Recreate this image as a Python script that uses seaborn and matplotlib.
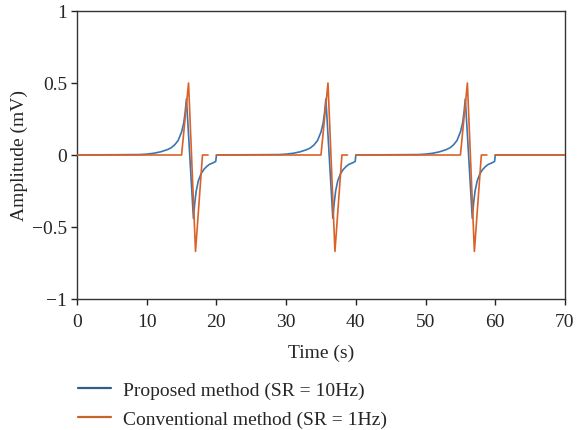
import numpy as np
import pandas as pd
import matplotlib
matplotlib.use("Agg")
import matplotlib.pyplot as plt
from matplotlib.lines import Line2D
import seaborn as sns

# one beat of each signal (time within a 20 s period)
beat_t_proposed = [0, 9, 10, 11, 12, 13, 13.5, 14, 14.5, 15, 15.3, 15.5, 15.7,
                   16.7, 16.9, 17.1, 17.4, 17.8, 18.2, 18.6, 19.0, 19.5, 19.9, 20.0]
beat_v_proposed = [0, 0.003, 0.006, 0.012, 0.022, 0.038, 0.05, 0.07, 0.1, 0.16, 0.22, 0.29, 0.39,
                   -0.44, -0.33, -0.25, -0.18, -0.13, -0.10, -0.08, -0.065, -0.055, -0.045, 0]
beat_t_conv = [0, 15, 16, 17, 18, 18.8]
beat_v_conv = [0, 0, 0.5, -0.67, 0, 0]
beat_starts = [0, 20, 40]
t_end = 70

blue = "#3a76b0"
orange = "#dc6128"

# build the three beats plus the flat tail
rows_p = []
for b in beat_starts:
    for t, v in zip(beat_t_proposed, beat_v_proposed):
        rows_p.append((b + t, v))
rows_p.append((t_end, 0))
df_p = pd.DataFrame(rows_p, columns=["time", "amp"]).drop_duplicates("time")

rows_c = []
for i, b in enumerate(beat_starts):
    for t, v in zip(beat_t_conv, beat_v_conv):
        rows_c.append((b + t, v, i))
rows_c.append((beat_starts[-1] + 20, 0, len(beat_starts)))
rows_c.append((t_end, 0, len(beat_starts)))
df_c = pd.DataFrame(rows_c, columns=["time", "amp", "seg"])

sns.set_style("ticks")
plt.rcParams["font.family"] = ["Liberation Serif", "DejaVu Serif"]
fs = 14

fig = plt.figure(figsize=(5.78, 4.31), dpi=100)
ax = fig.add_axes([77 / 578, 1 - 300 / 431, (565 - 77) / 578, (300 - 12) / 431])

sns.lineplot(data=df_p, x="time", y="amp", estimator=None, sort=False,
             color=blue, lw=1.2, ax=ax, zorder=2)
sns.lineplot(data=df_c, x="time", y="amp", units="seg", estimator=None, sort=False,
             color=orange, lw=1.2, ax=ax, zorder=3)

ax.set_xlim(0, 70)
ax.set_ylim(-1, 1)
ax.set_xticks(range(0, 71, 10))
ax.set_yticks([-1, -0.5, 0, 0.5, 1])
ax.set_yticklabels(["\u22121", "\u22120.5", "0", "0.5", "1"])
ax.tick_params(direction="out", length=4, width=1, labelsize=fs, color="#222222", pad=3)
ax.tick_params(axis="x", pad=6)
for s in ax.spines.values():
    s.set_color("#333333")
    s.set_linewidth(1)
ax.set_xlabel("Time (s)", fontsize=fs, labelpad=10)
ax.set_ylabel("Amplitude (mV)", fontsize=fs, labelpad=3)

handles = [Line2D([], [], color="#2f5f8c", lw=1.6),
           Line2D([], [], color="#c8642a", lw=1.6)]
fig.legend(handles, ["Proposed method (SR = 10Hz)", "Conventional method (SR = 1Hz)"],
           loc="upper left", bbox_to_anchor=(60 / 578, 1 - 365 / 431), frameon=False,
           handlelength=1.7, handletextpad=0.62, labelspacing=0.55, fontsize=fs)

fig.savefig("out.png", dpi=100)
